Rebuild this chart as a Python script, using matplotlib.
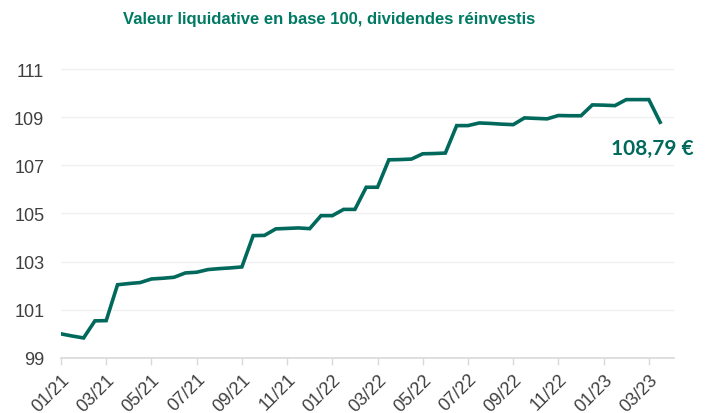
import matplotlib.pyplot as plt
import numpy as np

# valeur liquidative, base 100, deux points par mois (01/21 -> 03/23)
values = [100.00, 99.91, 99.83, 100.54, 100.55, 102.04, 102.09, 102.13,
          102.28, 102.31, 102.35, 102.53, 102.56, 102.67, 102.71, 102.74,
          102.78, 104.08, 104.09, 104.36, 104.38, 104.40, 104.37, 104.91,
          104.91, 105.17, 105.17, 106.09, 106.09, 107.23, 107.24, 107.26,
          107.48, 107.49, 107.51, 108.65, 108.65, 108.76, 108.74, 108.71,
          108.69, 108.97, 108.95, 108.93, 109.07, 109.06, 109.06, 109.51,
          109.50, 109.48, 109.73, 109.73, 109.73, 108.79]
tick_labels = ['01/21', '03/21', '05/21', '07/21', '09/21', '11/21', '01/22',
               '03/22', '05/22', '07/22', '09/22', '11/22', '01/23', '03/23']
y_ticks = [99, 101, 103, 105, 107, 109, 111]
last_label = '108,79 €'
title = 'Valeur liquidative en base 100, dividendes réinvestis'

green = '#00695c'
x = np.arange(len(values))

fig = plt.figure(figsize=(7.1, 4.14), dpi=100)
ax = fig.add_axes([0.0859, 0.133, 0.863, 0.756])

ax.plot(x, values, color=green, lw=2.6, solid_joinstyle='miter')

ax.set_xlim(0, 54.2)
ax.set_ylim(99, 112)
ax.set_yticks(y_ticks)
ax.set_xticks(np.arange(0, len(values), 4))
ax.set_xticklabels(tick_labels, rotation=45, ha='right', rotation_mode='anchor')

for lab in ax.get_xticklabels() + ax.get_yticklabels():
    lab.set_fontfamily(['Liberation Sans', 'DejaVu Sans'])
    lab.set_fontsize(13)
    lab.set_color('#404040')

ax.grid(axis='y', color='#f0f0f0', lw=1)
ax.set_axisbelow(True)
for s in ['top', 'right', 'left']:
    ax.spines[s].set_visible(False)
ax.spines['bottom'].set_color('#d9d9d9')
ax.spines['bottom'].set_linewidth(1.2)
ax.tick_params(axis='y', length=0, pad=12)
ax.tick_params(axis='x', length=5, color='#d9d9d9', width=1, pad=4)

ax.annotate(last_label, xy=(x[-1], values[-1]), xytext=(-8, -26),
            textcoords='offset pixels', ha='center', va='center',
            fontsize=15, fontweight='bold', color=green,
            fontfamily=['Lato', 'DejaVu Sans'])

fig.text(0.463, 0.952, title, ha='center', va='center', fontsize=12,
         fontweight='bold', color='#007a63',
         fontfamily=['Liberation Sans', 'DejaVu Sans'])

fig.savefig('out.png', dpi=100)
